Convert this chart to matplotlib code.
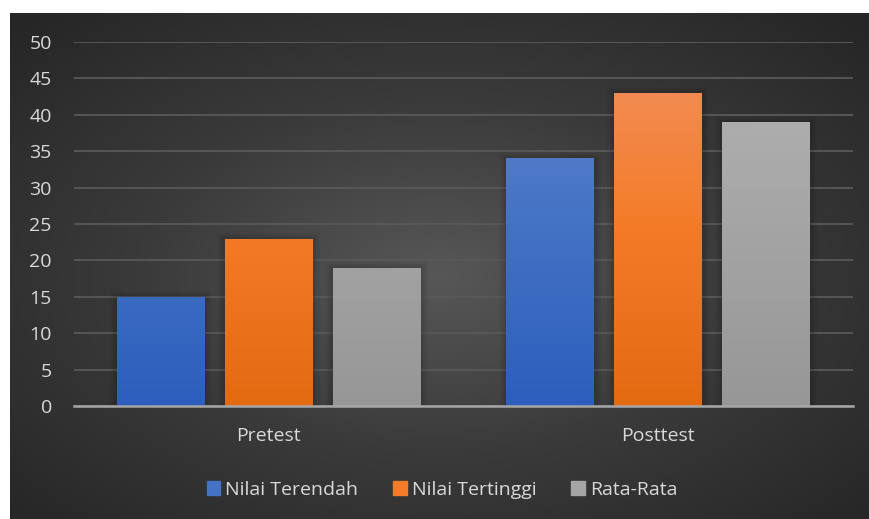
import numpy as np
import matplotlib.pyplot as plt
from matplotlib.colors import LinearSegmentedColormap
from matplotlib.patches import Rectangle

categories = ['Pretest', 'Posttest']
series_names = ['Nilai Terendah', 'Nilai Tertinggi', 'Rata-Rata']
nilai_terendah = [15, 34]
nilai_tertinggi = [23, 43]
rata_rata = [19, 39]
y_ticks = [0, 5, 10, 15, 20, 25, 30, 35, 40, 45, 50]

values = [nilai_terendah, nilai_tertinggi, rata_rata]
# (top colour, bottom colour) per series
grads = [('#6688d2', '#2c5fbd'), ('#f19060', '#e46a12'), ('#b3b3b3', '#979797')]
mids = ['#4472c4', '#f47c28', '#a5a5a5']

W, H = 869, 519
fig = plt.figure(figsize=(W / 100, H / 100), dpi=100)
fig.patch.set_facecolor('white')

# dark panel with radial gradient
bg = fig.add_axes([10 / W, 0, (W - 10) / W, (H - 13) / H])
bg.set_axis_off()
yy, xx = np.mgrid[0:1:300j, 0:1:500j]
r = np.sqrt(((xx - 0.5) / 0.5) ** 2 + ((yy - 0.52) / 0.5) ** 2) / np.sqrt(2)
bg_cmap = LinearSegmentedColormap.from_list('bg', ['#575757', '#3a3a3a', '#262626'])
bg.imshow(r, cmap=bg_cmap, aspect='auto', extent=[0, 1, 0, 1], vmin=0, vmax=1)
bg.set_xlim(0, 1)
bg.set_ylim(0, 1)

ax = fig.add_axes([74 / W, 113 / H, (853 - 74) / W, (406 - 42) / H])
ax.patch.set_alpha(0)

x = np.arange(len(categories))
bw = 88 / 389.5
step = 108 / 389.5

for i, (vals, name) in enumerate(zip(values, series_names)):
    pos = x + (i - 1) * step
    # soft shadow
    for k, a in enumerate([0.06, 0.05, 0.04]):
        d = 0.006 * (k + 1)
        ax.bar(pos, np.array(vals) + d * 40, width=bw + 2 * d, color='black',
               alpha=a, zorder=2, linewidth=0)
    bars = ax.bar(pos, vals, width=bw, color=mids[i], label=name, zorder=3, linewidth=0)
    cmap = LinearSegmentedColormap.from_list('g%d' % i, [grads[i][1], mids[i], grads[i][0]])
    for b in bars:
        x0 = b.get_x()
        grad = np.linspace(0, 1, 100).reshape(-1, 1)
        im = ax.imshow(grad, cmap=cmap, origin='lower', aspect='auto',
                       extent=[x0, x0 + b.get_width(), 0, 50], zorder=4)
        im.set_clip_path(b)
ax.set_xlim(-0.5, 1.5)
ax.set_ylim(0, 50)

ax.set_yticks(y_ticks)
ax.set_xticks(x)
ax.set_xticklabels(categories)
ax.grid(axis='y', color='#595959', linewidth=1.3, zorder=1)
ax.set_axisbelow(True)
for s in ['top', 'right', 'left']:
    ax.spines[s].set_visible(False)
ax.spines['bottom'].set_color('#a6a6a6')
ax.spines['bottom'].set_linewidth(1.8)
ax.spines['bottom'].set_zorder(5)
ax.tick_params(axis='both', length=0, colors='#d9d9d9', labelsize=14)
ax.tick_params(axis='y', pad=16)
ax.tick_params(axis='x', pad=15)
for t in ax.get_xticklabels() + ax.get_yticklabels():
    t.set_fontfamily('Open Sans')

handles = [Rectangle((0, 0), 1, 1, color=c) for c in mids]
leg = fig.legend(handles, series_names, loc='center', bbox_to_anchor=(442 / W, 1 - 490 / H),
                 ncol=3, frameon=False, handlelength=0.7, handleheight=0.7,
                 handletextpad=0.25, columnspacing=1.8,
                 prop={'family': 'Open Sans', 'size': 14})
for t in leg.get_texts():
    t.set_color('#d9d9d9')

fig.savefig('out.png', dpi=100)
